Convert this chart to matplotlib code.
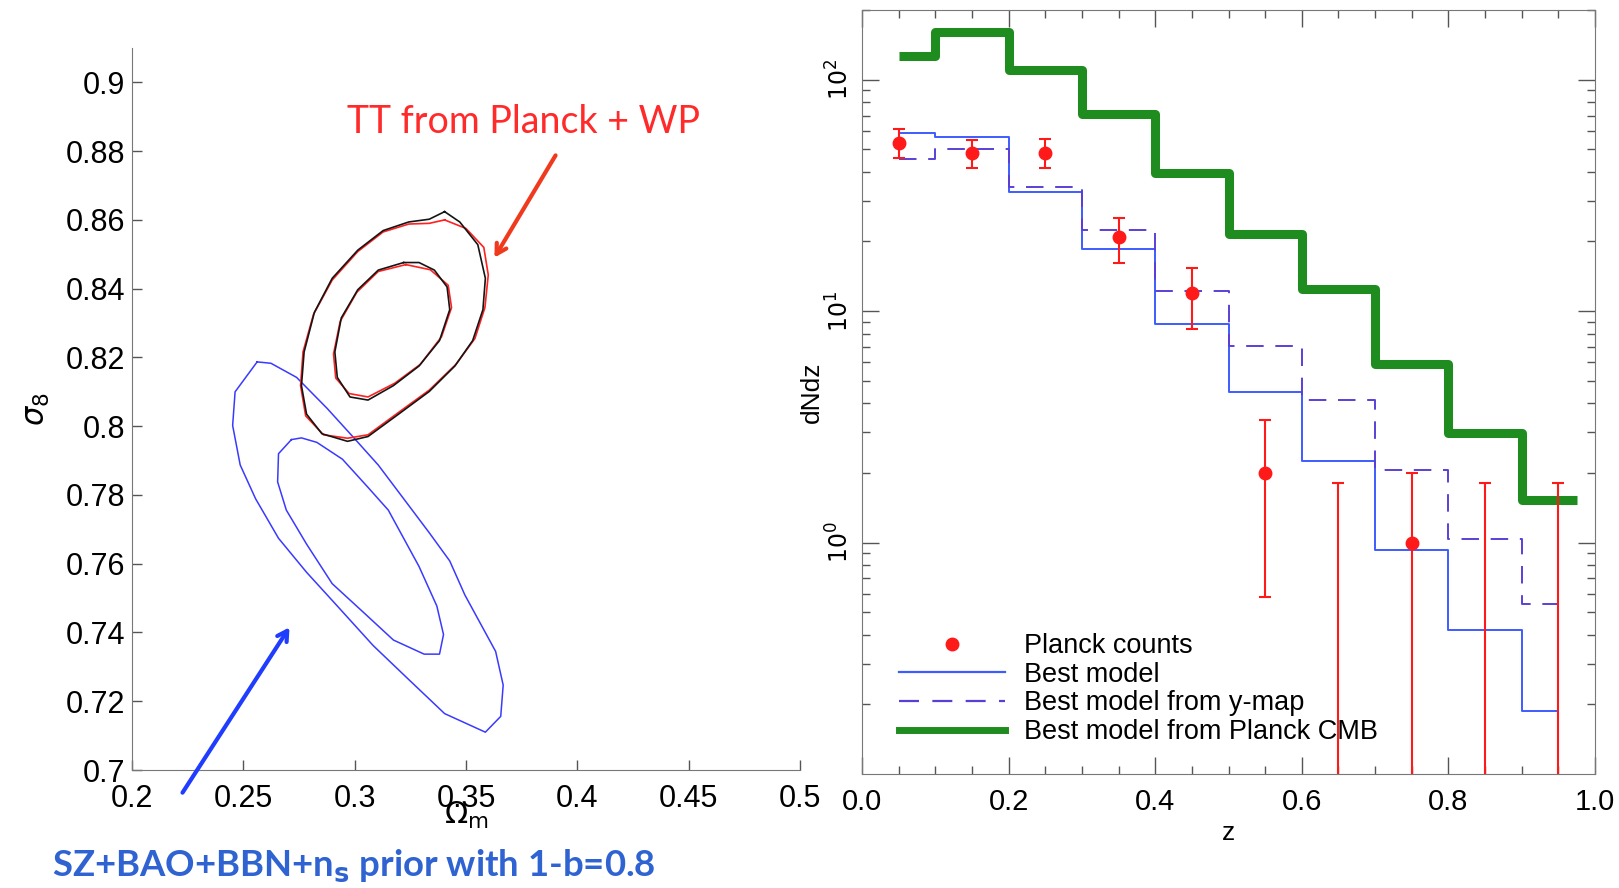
import numpy as np
import matplotlib
matplotlib.use("Agg")
import matplotlib.pyplot as plt
from matplotlib.lines import Line2D
from matplotlib.ticker import MultipleLocator, LogLocator, NullFormatter

plt.rcParams['font.family'] = ['Liberation Sans', 'DejaVu Sans']

# ---- left panel: contour outlines (Omega_m, sigma_8) ----
sz_outer_om = [0.2562, 0.2463, 0.2452, 0.2486, 0.2555, 0.2658, 0.2784, 0.2922, 0.3083, 0.3243,
               0.3404, 0.3587, 0.3656, 0.3667, 0.3633, 0.3564, 0.3495, 0.3427, 0.3335, 0.3220,
               0.3106, 0.2991, 0.2876, 0.2739, 0.2624]
sz_outer_s8 = [0.8187, 0.8100, 0.8002, 0.7887, 0.7789, 0.7674, 0.7575, 0.7477, 0.7362, 0.7263,
               0.7164, 0.7110, 0.7156, 0.7247, 0.7345, 0.7427, 0.7509, 0.7608, 0.7690, 0.7789,
               0.7887, 0.7970, 0.8052, 0.8142, 0.8183]
sz_inner_om = [0.2716, 0.2658, 0.2654, 0.2693, 0.2784, 0.2899, 0.3037, 0.3174, 0.3312, 0.3381,
               0.3399, 0.3369, 0.3289, 0.3220, 0.3151, 0.3060, 0.2945, 0.2830, 0.2761]
sz_inner_s8 = [0.7961, 0.7920, 0.7838, 0.7756, 0.7657, 0.7542, 0.7460, 0.7378, 0.7337, 0.7337,
               0.7394, 0.7477, 0.7592, 0.7674, 0.7756, 0.7822, 0.7904, 0.7953, 0.7966]

cmb_outer_om = [0.3404, 0.3335, 0.3243, 0.3128, 0.3014, 0.2899, 0.2819, 0.2773, 0.2761, 0.2784,
                0.2853, 0.2968, 0.3060, 0.3197, 0.3335, 0.3450, 0.3530, 0.3576, 0.3587, 0.3553,
                0.3472]
cmb_outer_s8 = [0.8624, 0.8602, 0.8594, 0.8569, 0.8512, 0.8430, 0.8331, 0.8216, 0.8118, 0.8035,
                0.7978, 0.7956, 0.7970, 0.8035, 0.8101, 0.8175, 0.8249, 0.8339, 0.8430, 0.8528,
                0.8594]
cmb_inner_om = [0.3220, 0.3106, 0.3014, 0.2940, 0.2911, 0.2922, 0.2979, 0.3060, 0.3174, 0.3289,
                0.3381, 0.3427, 0.3415, 0.3358, 0.3289]
cmb_inner_s8 = [0.8476, 0.8454, 0.8397, 0.8315, 0.8216, 0.8142, 0.8085, 0.8076, 0.8118, 0.8175,
                0.8249, 0.8339, 0.8405, 0.8454, 0.8476]

tt_outer_om = [0.3404, 0.3335, 0.3243, 0.3128, 0.3014, 0.2899, 0.2815, 0.2768, 0.2757, 0.2780,
               0.2860, 0.2968, 0.3060, 0.3197, 0.3335, 0.3455, 0.3540, 0.3585, 0.3600, 0.3580,
               0.3500]
tt_outer_s8 = [0.8600, 0.8590, 0.8588, 0.8565, 0.8508, 0.8425, 0.8325, 0.8216, 0.8118, 0.8030,
               0.7975, 0.7965, 0.7975, 0.8040, 0.8105, 0.8180, 0.8255, 0.8345, 0.8440, 0.8520,
               0.8575]
tt_inner_om = [0.3230, 0.3106, 0.3010, 0.2935, 0.2905, 0.2915, 0.2975, 0.3060, 0.3180, 0.3295,
               0.3390, 0.3435, 0.3420, 0.3340]
tt_inner_s8 = [0.8470, 0.8450, 0.8390, 0.8305, 0.8210, 0.8140, 0.8095, 0.8085, 0.8125, 0.8180,
               0.8260, 0.8345, 0.8410, 0.8455]

om_ticks = [0.2, 0.25, 0.3, 0.35, 0.4, 0.45, 0.5]
s8_ticks = [0.7, 0.72, 0.74, 0.76, 0.78, 0.8, 0.82, 0.84, 0.86, 0.88, 0.9]

# ---- right panel: dN/dz ----
bin_edges = [0.05, 0.1, 0.2, 0.3, 0.4, 0.5, 0.6, 0.7, 0.8, 0.9, 0.95]
best_model = [59, 56.4, 32.8, 18.6, 8.8, 4.47, 2.25, 0.93, 0.42, 0.188]
ymap_model = [45.5, 50.3, 34.4, 22.4, 12.2, 7.1, 4.15, 2.05, 1.04, 0.54]
cmb_edges = [0.05, 0.1, 0.2, 0.3, 0.4, 0.5, 0.6, 0.7, 0.8, 0.9, 0.975]
cmb_model = [126, 160, 110, 71, 39.5, 21.5, 12.5, 5.9, 2.98, 1.53]

z_mid = [0.05, 0.15, 0.25, 0.35, 0.45, 0.55, 0.65, 0.75, 0.85, 0.95]
planck_counts = [53, 48, 48, 21, 12, 2, 0, 1, 0, 0]
err_hi = [61, 55, 55.5, 25.2, 15.3, 3.4, 1.8, 2.0, 1.8, 1.8]
err_lo = [46, 41.5, 41.5, 16.2, 8.4, 0.58, 0.01, 0.01, 0.01, 0.01]

W, H = 1619, 888
fig = plt.figure(figsize=(W / 100, H / 100), dpi=100)

def closed(a):
    return list(a) + [a[0]]

# ================= left panel =================
ax1 = fig.add_axes([132 / W, 1 - 770 / H, 668 / W, 722 / H])
ax1.plot(closed(sz_outer_om), closed(sz_outer_s8), color='#3a3aff', lw=1.1)
ax1.plot(closed(sz_inner_om), closed(sz_inner_s8), color='#3a3aff', lw=1.1)
ax1.plot(closed(tt_outer_om), closed(tt_outer_s8), color='#ff2020', lw=1.2)
ax1.plot(closed(tt_inner_om), closed(tt_inner_s8), color='#ff2020', lw=1.2)
ax1.plot(closed(cmb_outer_om), closed(cmb_outer_s8), color='#151515', lw=1.2)
ax1.plot(closed(cmb_inner_om), closed(cmb_inner_s8), color='#151515', lw=1.2)

ax1.set_xlim(0.2, 0.5)
ax1.set_ylim(0.7, 0.91)
ax1.set_xticks(om_ticks)
ax1.set_xticklabels([str(round(v, 2)) for v in om_ticks])
ax1.set_yticks(s8_ticks)
ax1.set_yticklabels([str(round(v, 2)) for v in s8_ticks])
ax1.tick_params(direction='in', length=7, width=1, colors='#555555', labelcolor='black',
                labelsize=22)
ax1.tick_params(axis='x', pad=10)
ax1.tick_params(axis='y', pad=5)
for s in ['top', 'right']:
    ax1.spines[s].set_visible(False)
for s in ['left', 'bottom']:
    ax1.spines[s].set_color('#777777')
ax1.set_xlabel(r'$\Omega_{\rm m}$', fontsize=22, labelpad=-10)
ax1.set_ylabel(r'$\sigma_8$', fontsize=22, labelpad=10)

fig.text(523 / W, 1 - 122 / H, 'TT from Planck + WP', color='#ff2a2a', fontsize=27,
         family='Lato', ha='center', va='center')
fig.text(52 / W, 1 - 866 / H, r'SZ+BAO+BBN+n$_{\mathbf{s}}$ prior with 1-b=0.8', color='#2f63d2',
         fontsize=26.3, family='Lato', weight='bold', ha='left', va='center')
ax1.annotate('', xy=(493 / W, 1 - 260 / H), xytext=(557 / W, 1 - 153 / H),
             xycoords='figure fraction', textcoords='figure fraction',
             arrowprops=dict(arrowstyle='->,head_length=0.7,head_width=0.4', color='#f03a1e', lw=3))
ax1.annotate('', xy=(291 / W, 1 - 625 / H), xytext=(181 / W, 1 - 795 / H),
             xycoords='figure fraction', textcoords='figure fraction',
             arrowprops=dict(arrowstyle='->,head_length=0.7,head_width=0.4', color='#1f3cff', lw=3))

# ================= right panel =================
ax2 = fig.add_axes([862 / W, 1 - 774 / H, 733 / W, 764 / H])
ax2.set_yscale('log')
ax2.step(cmb_edges, cmb_model + [cmb_model[-1]], where='post', color='#1f8c1f', lw=6.5,
         solid_capstyle='butt')
ax2.step(bin_edges, best_model + [best_model[-1]], where='post', color='#3d5cff', lw=1.4)
ax2.step(bin_edges, ymap_model + [ymap_model[-1]], where='post', color='#5a3fd6', lw=1.4,
         dashes=(9, 6))

zm = np.array(z_mid)
hi = np.array(err_hi)
lo = np.array(err_lo)
cnt = np.array(planck_counts, dtype=float)
ax2.errorbar(zm, hi, yerr=[hi - lo, np.zeros_like(hi)], fmt='none', ecolor='#ff1a1a',
             elinewidth=1.5, capsize=4, capthick=1.5)
has = cnt > 0
ax2.plot(zm[has], cnt[has], 'o', color='#ff1a1a', ms=9)

ax2.set_xlim(0, 1)
ax2.set_ylim(0.1, 200)
ax2.set_xticks([0.0, 0.2, 0.4, 0.6, 0.8, 1.0])
ax2.set_xticklabels(['0.0', '0.2', '0.4', '0.6', '0.8', '1.0'])
ax2.xaxis.set_minor_locator(MultipleLocator(0.05))
ax2.set_yticks([1, 10, 100])
ax2.set_yticklabels([r'$10^{0}$', r'$10^{1}$', r'$10^{2}$'], rotation=90, va='center')
ax2.yaxis.set_minor_locator(LogLocator(subs=np.arange(2, 10)))
ax2.yaxis.set_minor_formatter(NullFormatter())
ax2.tick_params(which='both', direction='in', top=True, right=True, colors='#555555',
                labelcolor='black')
ax2.tick_params(which='major', length=12, width=1)
ax2.tick_params(which='minor', length=6, width=1)
ax2.tick_params(axis='x', labelsize=21, pad=10)
ax2.tick_params(axis='y', labelsize=17, pad=6)
for s in ax2.spines.values():
    s.set_color('#777777')
ax2.set_xlabel('z', fontsize=19, labelpad=4)
ax2.set_ylabel('dNdz', fontsize=19, labelpad=2)

handles = [
    Line2D([], [], ls='none', marker='o', color='#ff1a1a', ms=9),
    Line2D([], [], color='#3d5cff', lw=1.6),
    Line2D([], [], color='#5a3fd6', lw=1.6, dashes=(9, 6)),
    Line2D([], [], color='#1f8c1f', lw=5),
]
labels = ['Planck counts', 'Best model', 'Best model from y-map', 'Best model from Planck CMB']
ax2.legend(handles, labels, loc='upper left', bbox_to_anchor=(899 / W, 1 - 633 / H),
           bbox_transform=fig.transFigure, frameon=False, fontsize=19.5, handlelength=3.9,
           handletextpad=0.7, labelspacing=0.1, borderpad=0, borderaxespad=0)

fig.savefig('out.png', dpi=100)
